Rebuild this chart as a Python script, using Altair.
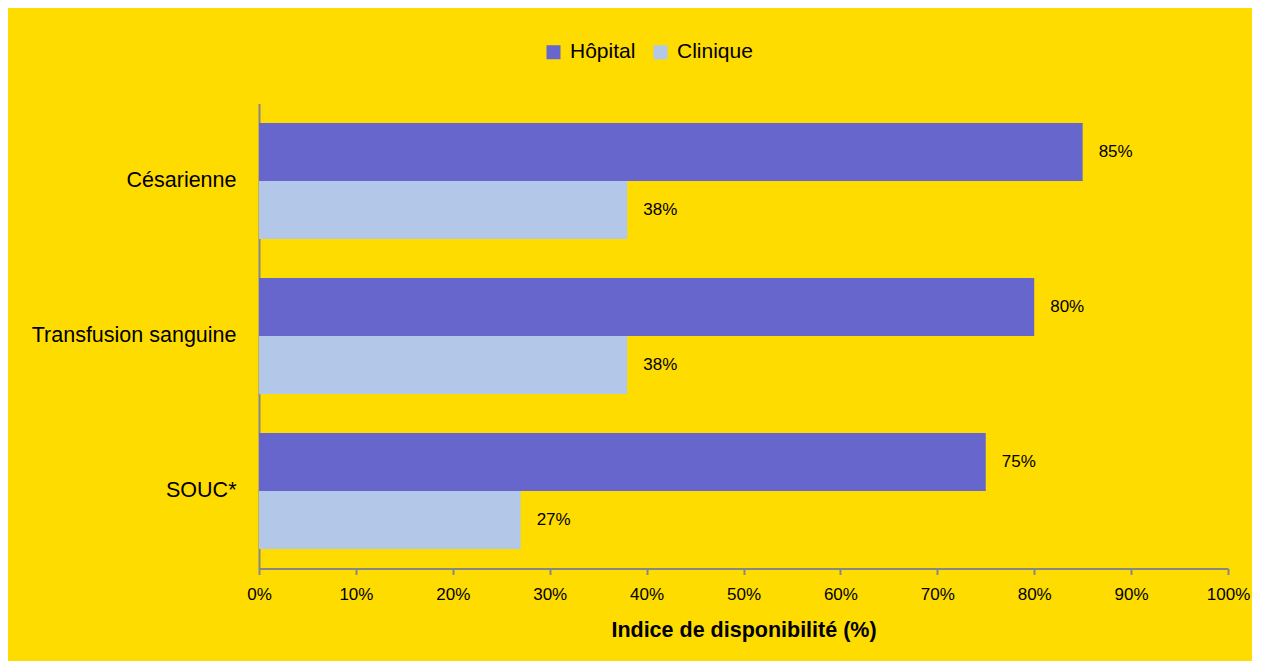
import altair as alt
import pandas as pd

categories = ["Césarienne", "Transfusion sanguine", "SOUC*"]
series = ["Hôpital", "Clinique"]
hopital = [85, 80, 75]
clinique = [38, 38, 27]
x_ticks = [0, 10, 20, 30, 40, 50, 60, 70, 80, 90, 100]

rows = []
for c, h, k in zip(categories, hopital, clinique):
    rows.append({"cat": c, "serie": "Hôpital", "val": h, "lab": f"{h}%"})
    rows.append({"cat": c, "serie": "Clinique", "val": k, "lab": f"{k}%"})
df = pd.DataFrame(rows)

FONT = "Liberation Sans"
YELLOW = "#FFDC00"
GRAY = "#878787"

y_enc = alt.Y("cat:N", sort=categories, title=None,
              scale=alt.Scale(paddingInner=0.252, paddingOuter=0.126),
              axis=alt.Axis(ticks=False, labelFontSize=21.5, labelFont=FONT,
                            labelColor="#000000", labelPadding=23, labelLimit=0,
                            domainColor=GRAY, domainWidth=2))
yoff = alt.YOffset("serie:N", sort=series,
                   scale=alt.Scale(paddingInner=0, paddingOuter=0))

bars = alt.Chart(df).mark_bar().encode(
    y=y_enc,
    yOffset=yoff,
    x=alt.X("val:Q", scale=alt.Scale(domain=[0, 100]),
            title="Indice de disponibilité (%)",
            axis=alt.Axis(values=x_ticks, labelExpr="datum.value + '%'",
                          grid=False, tickSize=6, tickColor=GRAY, tickWidth=2,
                          domainColor=GRAY, domainWidth=2, labelFlush=False,
                          labelFontSize=17, labelFont=FONT, labelColor="#000000",
                          labelPadding=12, titleFont=FONT, titleFontSize=21.5,
                          titleFontWeight="bold", titleColor="#000000",
                          titlePadding=17)),
    color=alt.Color("serie:N", sort=series,
                    scale=alt.Scale(domain=series, range=["#6666CC", "#B3C7E9"]),
                    legend=alt.Legend(title=None, orient="none", direction="horizontal",
                                      legendX=284, legendY=-62,
                                      symbolType="square", symbolSize=196,
                                      symbolStrokeWidth=0, symbolOpacity=1,
                                      labelFont=FONT, labelFontSize=21,
                                      labelColor="#000000", columnPadding=14,
                                      labelOffset=6)),
)

labels = alt.Chart(df).mark_text(align="left", baseline="middle", dx=16,
                                 font=FONT, fontSize=17, color="#000000").encode(
    y=alt.Y("cat:N", sort=categories),
    yOffset=yoff,
    x="val:Q",
    text="lab:N",
)

chart = (bars + labels).properties(
    width=969, height=465,
    background=YELLOW,
    padding={"left": 251, "top": 95.5, "right": 24, "bottom": 92},
    autosize=alt.AutoSizeParams(type="none"),
).configure_view(stroke=None)

chart.save("out.html", embed_options={"renderer": "svg", "actions": False})
